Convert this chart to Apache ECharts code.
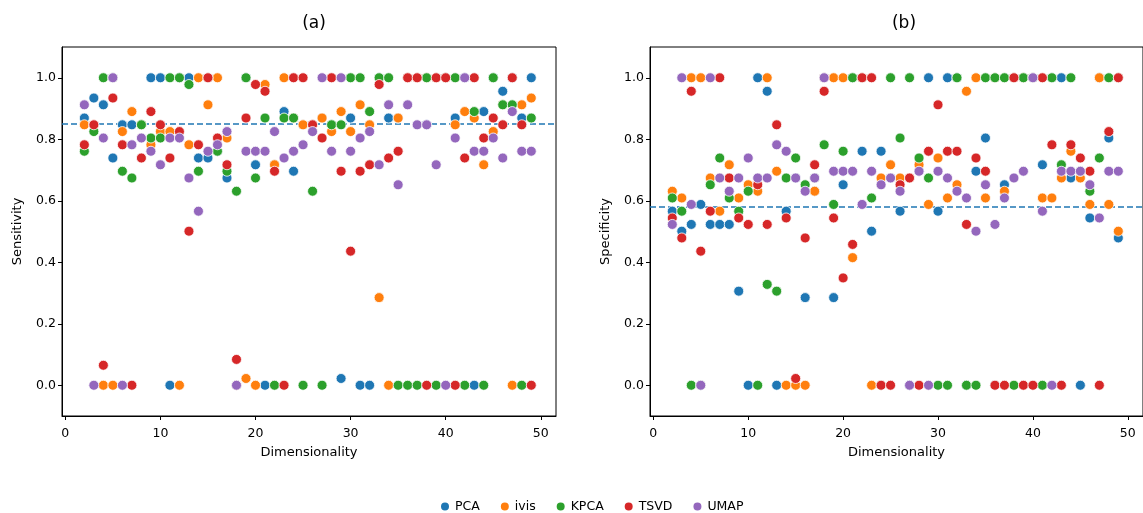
<!DOCTYPE html>
<html>
<head>
<meta charset="utf-8">
<script src="https://cdn.jsdelivr.net/npm/echarts@6/dist/echarts.min.js"></script>
<style>html,body{margin:0;padding:0;background:#fff;}#c{width:1143px;height:513px;}</style>
</head>
<body>
<div id="c"></div>
<script>
const dims = [2,3,4,5,6,7,8,9,10,11,12,13,14,15,16,17,18,19,20,21,22,23,24,25,26,27,28,29,30,31,32,33,34,35,36,37,38,39,40,41,42,43,44,45,46,47,48,49];
const seriesNames = ['PCA','ivis','KPCA','TSVD','UMAP'];
const colors = ['#1f77b4','#ff7f0e','#2ca02c','#d62728','#9467bd'];
const xTicks = [0,10,20,30,40,50];
const yTicks = [0,0.2,0.4,0.6,0.8,1.0];
const meanSensitivity = 0.847;
const meanSpecificity = 0.584;

// Panel (a): Sensitivity
const sensPCA  = [0.869,0.934,0.912,0.739,0.847,0.847,0.847,1.0,1.0,0,1.0,1.0,0.739,0.739,0.761,0.674,0,1.0,0.717,0,0.717,0.89,0.696,0.847,0.847,0.869,0.847,0.022,0.869,0,0,1.0,0.869,0.869,1.0,1.0,0.847,1.0,1.0,0.869,1.0,0,0.89,1.0,0.956,1.0,0.869,1.0];
const sensIvis = [0.847,0.847,0,0,0.825,0.89,0.847,0.782,0.825,0.825,0,0.782,1.0,0.912,1.0,0.804,0,0.022,0,0.978,0.717,1.0,0.869,0.847,0.847,0.869,0.825,0.89,0.825,0.912,0.847,0.285,0,0.869,1.0,1.0,1.0,1.0,1.0,0.847,0.89,0.869,0.717,0.825,0.912,0,0.912,0.934];
const sensKPCA = [0.761,0.825,1.0,1.0,0.696,0.674,0.847,0.804,0.804,1.0,1.0,0.978,0.696,1.0,0.761,0.696,0.631,1.0,0.674,0.869,0,0.869,0.869,0,0.631,0,0.847,0.847,1.0,1.0,0.89,1.0,1.0,0,0,0,1.0,0,1.0,1.0,0,0.89,0,1.0,0.912,0.912,0,0.869];
const sensTSVD = [0.782,0.847,0.065,0.934,0.782,0,0.739,0.89,0.847,0.739,0.825,0.501,0.782,1.0,0.804,0.717,0.084,0.869,0.978,0.956,0.696,0,1.0,1.0,0.847,0.804,1.0,0.696,0.436,0.696,0.717,0.978,0.739,0.761,1.0,1.0,0,1.0,1.0,0,0.739,1.0,0.804,0.869,0.847,1.0,0.847,0];
const sensUMAP = [0.912,0,0.804,1.0,0,0.782,0.804,0.761,0.717,0.804,0.804,0.674,0.566,0.761,0.782,0.825,0,0.761,0.761,0.761,0.825,0.739,0.761,0.782,0.825,1.0,0.761,1.0,0.761,0.804,0.825,0.717,0.912,0.652,0.912,0.847,0.847,0.717,0,0.804,1.0,0.761,0.761,0.804,0.739,0.89,0.761,0.761];

// Panel (b): Specificity
const specPCA  = [0.566,0.501,0.523,0.588,0.523,0.523,0.523,0.306,0,1.0,0.956,0,0.566,0.674,0.285,0.631,1.0,0.285,0.652,1.0,0.761,0.501,0.761,0.674,0.566,0,0.696,1.0,0.566,1.0,1.0,0,0.696,0.804,0,0.652,1.0,1.0,1.0,0.717,1.0,1.0,0.674,0,0.544,1.0,0.804,0.479];
const specIvis = [0.631,0.609,1.0,1.0,0.674,0.566,0.717,0.609,0.652,0.631,1.0,0.696,0,0,0,0.631,1.0,1.0,1.0,0.415,1.0,0,0.674,0.717,0.674,0.674,0.717,0.588,0.739,0.609,0.652,0.956,1.0,0.609,1.0,0.631,1.0,1.0,1.0,0.609,0.609,0.674,0.761,0.674,0.588,1.0,0.588,0.501];
const specKPCA = [0.609,0.566,0,0,0.652,0.739,0.609,0.566,0.631,0,0.328,0.306,0.674,0.739,0.652,0.674,0.782,0.588,0.761,1.0,1.0,0.609,0,1.0,0.804,1.0,0.739,0.674,0,0,1.0,0,0,1.0,1.0,1.0,0,1.0,1.0,0,1.0,0.717,1.0,0.696,0.631,0.739,1.0,1.0];
const specTSVD = [0.544,0.479,0.956,0.436,0.566,1.0,0.674,0.544,0.523,0.652,0.523,0.847,0.544,0.022,0.479,0.717,0.956,0.544,0.349,0.458,1.0,1.0,0,0,0.652,0.674,0,0.761,0.912,0.761,0.761,0.523,0.739,0.696,0,0,1.0,0,0,1.0,0.782,0,0.782,0.739,0.696,0,0.825,1.0];
const specUMAP = [0.523,1.0,0.588,0,1.0,0.674,0.631,0.674,0.739,0.674,0.674,0.782,0.761,0.674,0.631,0.674,1.0,0.696,0.696,0.696,0.588,0.696,0.652,0.674,0.631,0,0.696,0,0.696,0.674,0.631,0.609,0.501,0.652,0.523,0.609,0.674,0.696,1.0,0.566,0,0.696,0.696,0.696,0.652,0.544,0.696,0.696];

const sensAll = [sensPCA, sensIvis, sensKPCA, sensTSVD, sensUMAP];
const specAll = [specPCA, specIvis, specKPCA, specTSVD, specUMAP];

const FONT = 'DejaVu Sans';
const chart = echarts.init(document.getElementById('c'), null, {renderer: 'canvas'});

function xAxisDef(idx) {
  return {
    type: 'value', gridIndex: idx, min: -0.35, max: 51.6,
    name: 'Dimensionality', nameLocation: 'middle', nameGap: 30,
    nameTextStyle: {color: '#000', fontFamily: FONT, fontSize: 13},
    axisLine: {show: true, onZero: false, lineStyle: {color: '#000', width: 1}},
    axisTick: {show: true, customValues: xTicks, length: 4, lineStyle: {color: '#000'}},
    axisLabel: {customValues: xTicks, color: '#000', fontFamily: FONT, fontSize: 12.5, margin: 11},
    splitLine: {show: false}
  };
}
function yAxisDef(idx, name) {
  return {
    type: 'value', gridIndex: idx, min: -0.1, max: 1.1,
    name: name, nameLocation: 'middle', nameGap: 38, nameRotate: 90,
    nameTextStyle: {color: '#000', fontFamily: FONT, fontSize: 13},
    axisLine: {show: true, onZero: false, lineStyle: {color: '#000', width: 1}},
    axisTick: {show: true, customValues: yTicks, length: 4, lineStyle: {color: '#000'}},
    axisLabel: {customValues: yTicks, color: '#000', fontFamily: FONT, fontSize: 12.5, margin: 6,
      formatter: v => Number(v).toFixed(1)},
    splitLine: {show: false}
  };
}

const series = [];
for (let p = 0; p < 2; p++) {
  const all = p === 0 ? sensAll : specAll;
  for (let s = 0; s < seriesNames.length; s++) {
    const ser = {
      name: seriesNames[s], type: 'scatter', xAxisIndex: p, yAxisIndex: p,
      symbol: 'circle', symbolSize: 10,
      itemStyle: {color: colors[s], borderColor: '#fff', borderWidth: 0.8, opacity: 1},
      emphasis: {disabled: true},
      data: dims.map((d, i) => [d, all[s][i]]),
      z: 3
    };
    if (s === 0) {
      ser.markLine = {
        silent: true, symbol: 'none', label: {show: false},
        lineStyle: {color: '#1f77b4', type: [6, 3], width: 1.5},
        data: [{yAxis: p === 0 ? meanSensitivity : meanSpecificity}],
        z: 2
      };
    }
    series.push(ser);
  }
}

chart.setOption({
  animation: false,
  backgroundColor: '#fff',
  textStyle: {fontFamily: FONT},
  color: colors,
  title: [
    {text: '(a)', left: 309, top: 10, textAlign: 'center', textStyle: {fontFamily: FONT, fontSize: 17, fontWeight: 'normal', color: '#000'}},
    {text: '(b)', left: 899, top: 10, textAlign: 'center', textStyle: {fontFamily: FONT, fontSize: 17, fontWeight: 'normal', color: '#000'}}
  ],
  grid: [
    {left: 62, top: 47, width: 494, height: 369, show: true, borderColor: '#000', borderWidth: 1, backgroundColor: 'transparent'},
    {left: 650, top: 47, width: 497, height: 369, show: true, borderColor: '#000', borderWidth: 1, backgroundColor: 'transparent'}
  ],
  xAxis: [xAxisDef(0), xAxisDef(1)],
  yAxis: [yAxisDef(0, 'Sensitivity'), yAxisDef(1, 'Specificity')],
  legend: {
    data: seriesNames, left: 434, top: 495, icon: 'circle',
    itemWidth: 10, itemHeight: 10, itemGap: 19,
    textStyle: {fontFamily: FONT, fontSize: 12.5, color: '#000'}
  },
  series: series
});
</script>
</body>
</html>
